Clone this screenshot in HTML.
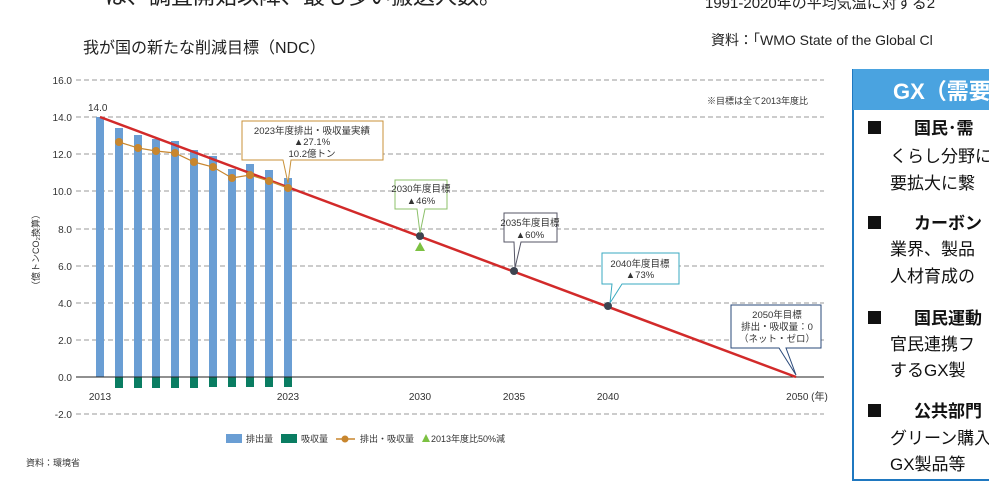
<!DOCTYPE html>
<html><head><meta charset="utf-8"><style>
body{margin:0;width:989px;height:493px;overflow:hidden;background:#fff;font-family:"Liberation Sans","Noto Sans CJK JP",sans-serif;}
</style></head><body>
<svg width="989" height="493" viewBox="0 0 989 493" xmlns="http://www.w3.org/2000/svg" style="position:absolute;left:0;top:0;font-family:'Liberation Sans','Noto Sans CJK JP',sans-serif">
<text x="105" y="4" font-size="22" fill="#222">は、調査開始以降、最も多い搬送人数。</text>
<text x="705" y="8" font-size="15" fill="#222">1991-2020年の平均気温に対する2</text>
<text x="711" y="45" font-size="14" fill="#222">資料：「WMO State of the Global Cl</text>
<text x="83" y="53" font-size="16" fill="#222">我が国の新たな削減目標（NDC）</text>
<g stroke="#999" stroke-dasharray="5,3" stroke-width="1">
<line x1="76" y1="80" x2="824" y2="80"/><line x1="76" y1="117" x2="824" y2="117"/><line x1="76" y1="154" x2="824" y2="154"/><line x1="76" y1="191" x2="824" y2="191"/><line x1="76" y1="229" x2="824" y2="229"/><line x1="76" y1="266" x2="824" y2="266"/><line x1="76" y1="303" x2="824" y2="303"/><line x1="76" y1="340" x2="824" y2="340"/><line x1="76" y1="414" x2="824" y2="414"/>
</g>
<g font-size="10" fill="#333" text-anchor="end">
<text x="72" y="84">16.0</text><text x="72" y="121">14.0</text><text x="72" y="158">12.0</text><text x="72" y="195">10.0</text><text x="72" y="233">8.0</text><text x="72" y="270">6.0</text><text x="72" y="307">4.0</text><text x="72" y="344">2.0</text><text x="72" y="381">0.0</text><text x="72" y="418">-2.0</text>
</g>
<text transform="translate(39,250) rotate(-90)" font-size="9" fill="#333" text-anchor="middle">（億トンCO₂換算）</text>
<g fill="#6a9ed4">
<rect x="96" y="117" width="8" height="260"/><rect x="115" y="128" width="8" height="249"/><rect x="134" y="135" width="8" height="242"/><rect x="152" y="139" width="8" height="238"/><rect x="171" y="141" width="8" height="236"/><rect x="190" y="150" width="8" height="227"/><rect x="209" y="156" width="8" height="221"/><rect x="228" y="169" width="8" height="208"/><rect x="246" y="164" width="8" height="213"/><rect x="265" y="170" width="8" height="207"/><rect x="284" y="178" width="8" height="199"/>
</g>
<g fill="#0a7d62">
<rect x="115" y="377" width="8" height="11"/><rect x="134" y="377" width="8" height="11"/><rect x="152" y="377" width="8" height="11"/><rect x="171" y="377" width="8" height="11"/><rect x="190" y="377" width="8" height="11"/><rect x="209" y="377" width="8" height="10"/><rect x="228" y="377" width="8" height="10"/><rect x="246" y="377" width="8" height="10"/><rect x="265" y="377" width="8" height="10"/><rect x="284" y="377" width="8" height="10"/>
</g>
<line x1="76" y1="377" x2="824" y2="377" stroke="#222" stroke-width="1"/>
<line x1="100" y1="117" x2="796" y2="377" stroke="#d22a2a" stroke-width="2.5"/>
<polyline fill="none" stroke="#c8862e" stroke-width="1.2" points="119,142 138,148 156,151 175,153 194,162 213,167 232,178 250,175 269,181 288,188"/>
<g fill="#c8862e">
<circle cx="119" cy="142" r="4"/><circle cx="138" cy="148" r="4"/><circle cx="156" cy="151" r="4"/><circle cx="175" cy="153" r="4"/><circle cx="194" cy="162" r="4"/><circle cx="213" cy="167" r="4"/><circle cx="232" cy="178" r="4"/><circle cx="250" cy="175" r="4"/><circle cx="269" cy="181" r="4"/><circle cx="288" cy="188" r="4"/>
</g>
<g fill="#3d4450"><circle cx="420" cy="236" r="4"/><circle cx="514" cy="271" r="4"/><circle cx="608" cy="306" r="4"/></g>
<polygon points="420,242 415,251 425,251" fill="#7cc142"/>
<text x="88" y="111" font-size="10" fill="#333">14.0</text>
<g font-size="10" fill="#333" text-anchor="middle">
<text x="100" y="400">2013</text><text x="288" y="400">2023</text><text x="420" y="400">2030</text><text x="514" y="400">2035</text><text x="608" y="400">2040</text><text x="807" y="400">2050 (年)</text>
</g>
<text x="808" y="104" font-size="9" fill="#333" text-anchor="end">※目標は全て2013年度比</text>
<!-- callouts -->
<g font-size="9.5" fill="#333" text-anchor="middle">
<path d="M242,121 H383 V160 H291 L288,183 L283,160 H242 Z" fill="#fff" stroke="#c8913a"/>
<text x="312" y="134">2023年度排出・吸収量実績</text><text x="312" y="145">▲27.1%</text><text x="312" y="157">10.2億トン</text>
<path d="M395,180 H447 V209 H425 L420,233 L417,209 H395 Z" fill="#fff" stroke="#8cc06a"/>
<text x="421" y="192">2030年度目標</text><text x="421" y="204">▲46%</text>
<path d="M504,213 H557 V242 H521 L515,268 L514,242 H504 Z" fill="#fff" stroke="#556"/>
<text x="530" y="226">2035年度目標</text><text x="530" y="238">▲60%</text>
<path d="M602,253 H679 V284 H622 L610,303 L612,284 H602 Z" fill="#fff" stroke="#3aaac0"/>
<text x="640" y="267">2040年度目標</text><text x="640" y="278">▲73%</text>
<path d="M731,305 H821 V348 H786 L796,375 L779,348 H731 Z" fill="#fff" stroke="#2a4a7a"/>
<text x="777" y="318">2050年目標</text><text x="777" y="330">排出・吸収量：0</text><text x="777" y="342">（ネット・ゼロ）</text>
</g>
<!-- legend -->
<rect x="226" y="434" width="16" height="9" fill="#6a9ed4"/><text x="246" y="442" font-size="9" fill="#333">排出量</text>
<rect x="281" y="434" width="16" height="9" fill="#0a7d62"/><text x="301" y="442" font-size="9" fill="#333">吸収量</text>
<line x1="336" y1="439" x2="355" y2="439" stroke="#c8862e" stroke-width="1.5"/><circle cx="345" cy="439" r="3.5" fill="#c8862e"/>
<text x="360" y="442" font-size="9" fill="#333">排出・吸収量</text>
<polygon points="426,434 422,442 430,442" fill="#7cc142"/><text x="431" y="442" font-size="9" fill="#333">2013年度比50%減</text>
<text x="26" y="466" font-size="9" fill="#333">資料：環境省</text>
<!-- right panel -->
<rect x="853" y="70" width="140" height="410" fill="#fff" stroke="#1f78c0" stroke-width="2"/>
<rect x="853" y="69" width="140" height="41" fill="#4aa3e0"/>
<text x="893" y="99" font-size="22" font-weight="bold" fill="#fff">GX（需要</text>
<g font-size="17" fill="#111">
<rect x="868" y="121" width="13" height="13" fill="#111"/><text x="914" y="134" font-weight="bold">国民･需</text>
<text x="890" y="162">くらし分野に</text><text x="890" y="189">要拡大に繋</text>
<rect x="868" y="216" width="13" height="13" fill="#111"/><text x="914" y="229" font-weight="bold">カーボン</text>
<text x="890" y="255">業界、製品</text><text x="890" y="282">人材育成の</text>
<rect x="868" y="311" width="13" height="13" fill="#111"/><text x="914" y="324" font-weight="bold">国民運動</text>
<text x="890" y="350">官民連携フ</text><text x="890" y="376">するGX製</text>
<rect x="868" y="404" width="13" height="13" fill="#111"/><text x="914" y="417" font-weight="bold">公共部門</text>
<text x="890" y="444">グリーン購入</text><text x="890" y="470">GX製品等</text>
</g>
</svg>
</body></html>
